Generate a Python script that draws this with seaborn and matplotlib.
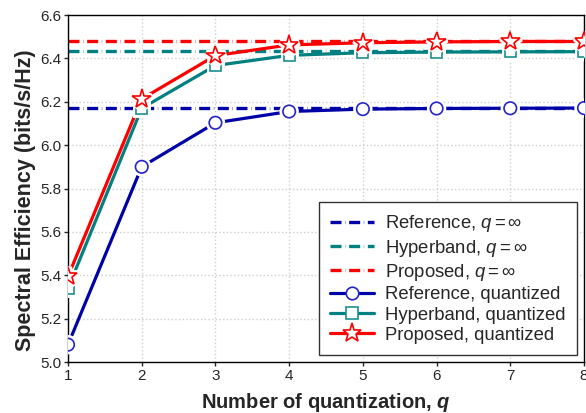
import matplotlib
matplotlib.use("Agg")
import matplotlib.pyplot as plt
import matplotlib.patheffects as pe
import seaborn as sns

q = [1, 2, 3, 4, 5, 6, 7, 8]
ref_quant = [5.08, 5.90, 6.103, 6.155, 6.166, 6.169, 6.170, 6.171]
hyp_quant = [5.34, 6.17, 6.367, 6.414, 6.426, 6.429, 6.430, 6.431]
prop_quant = [5.395, 6.213, 6.413, 6.462, 6.472, 6.476, 6.478, 6.478]
ref_inf = 6.172
hyp_inf = 6.432
prop_inf = 6.478

labels_inf = [r"Reference, $q = \infty$", r"Hyperband, $q = \infty$", r"Proposed, $q = \infty$"]
labels_quant = ["Reference, quantized", "Hyperband, quantized", "Proposed, quantized"]
colors = ["#0000a8", "#008080", "#ff0000"]
edge_colors = ["#2424cc", "#1a9090", "#ff0000"]
markers = ["o", "s", "*"]
msizes = [9, 8, 14]

sns.set_style("ticks")
plt.rcParams["font.family"] = ["Liberation Sans", "DejaVu Sans"]
plt.rcParams["mathtext.fontset"] = "custom"
plt.rcParams["mathtext.rm"] = "Liberation Sans"
plt.rcParams["mathtext.it"] = "Liberation Sans:italic"
plt.rcParams["mathtext.bf"] = "Liberation Sans:bold"
plt.rcParams["mathtext.bfit"] = "Liberation Sans:bold:italic"

fig = plt.figure(figsize=(5.86, 4.13), dpi=100)
ax = fig.add_axes([68 / 586, 1 - 362 / 413, 516 / 586, 347 / 413])

dash = (0, (3.3, 1.1, 0.1, 1.1))
for val, c, lab in zip([ref_inf, hyp_inf, prop_inf], colors, labels_inf):
    ax.axhline(val, color=c, lw=2.4, linestyle=dash, label=lab, zorder=2)

for ys, c, ec, m, ms, lab in zip([ref_quant, hyp_quant, prop_quant], colors,
                                 edge_colors, markers, msizes, labels_quant):
    sns.lineplot(x=q, y=ys, ax=ax, color=c, lw=2.3, marker=m, markersize=ms,
                 markerfacecolor="white", markeredgecolor=ec, markeredgewidth=1.2,
                 label=lab, zorder=3)

# white halo around markers so the lines stop short of them
for ys, ec, m, ms in zip([ref_quant, hyp_quant, prop_quant], edge_colors, markers, msizes):
    ax.plot(q, ys, linestyle="none", marker=m, markersize=ms, markerfacecolor="white",
            markeredgecolor=ec, markeredgewidth=1.2, zorder=4,
            path_effects=[pe.withStroke(linewidth=5, foreground="white")])

ax.set_xlim(1, 8)
ax.set_ylim(5.0, 6.6)
ax.set_xticks(q)
ax.set_yticks([5.0, 5.2, 5.4, 5.6, 5.8, 6.0, 6.2, 6.4, 6.6])
ax.set_yticklabels(["5.0", "5.2", "5.4", "5.6", "5.8", "6.0", "6.2", "6.4", "6.6"])
ax.grid(True, color="#cfcfcf", linestyle=":", linewidth=1.0)
ax.set_axisbelow(True)
for s in ax.spines.values():
    s.set_color("black")
    s.set_linewidth(1.0)
ax.tick_params(direction="out", length=3, width=1, labelsize=11, pad=2)

ax.set_xlabel(r"Number of quantization, $\mathbfit{q}$", fontsize=14.5, fontweight="bold", labelpad=6)
ax.set_ylabel("Spectral Efficiency (bits/s/Hz)", fontsize=15.5, fontweight="bold")
ax.yaxis.set_label_coords(-0.062, 0.465)

leg = ax.legend(loc="lower right", bbox_to_anchor=(509 / 516, 7 / 347), fontsize=13.3,
                handlelength=2.4, handletextpad=0.6, labelspacing=0.18,
                borderpad=0.6, fancybox=False, framealpha=1, borderaxespad=0)
leg.get_frame().set_edgecolor("#333333")
leg.get_frame().set_linewidth(1.0)

fig.savefig("out.png", dpi=100)
